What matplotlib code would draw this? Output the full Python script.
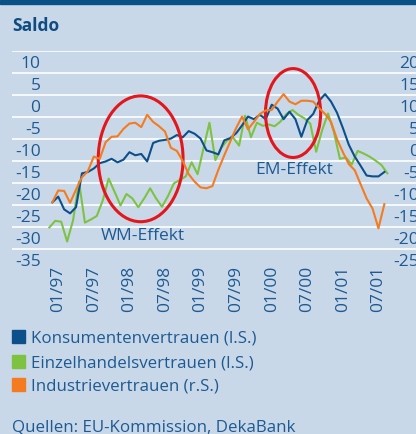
import numpy as np
import pandas as pd
import matplotlib
matplotlib.use("Agg")
import matplotlib.pyplot as plt
from matplotlib.patches import Ellipse, Rectangle
from matplotlib.transforms import blended_transform_factory

plt.rcParams['font.family'] = ['Open Sans', 'DejaVu Sans']

# ---------------- data ----------------
months = pd.date_range("1996-12-01", periods=57, freq="MS")

konsument = [-21.9, -20.6, -23.5, -24.4, -23.0, -15.3, -15.0, -14.2, -13.0, -12.6,
             -12.0, -12.8, -12.2, -10.5, -11.2, -10.9, -12.6, -8.4, -7.9, -7.7,
             -7.4, -6.6, -7.1, -5.7, -6.3, -7.4, -10.1, -10.5, -11.0, -7.8,
             -7.3, -6.2, -4.4, -2.4, -3.0, -2.0, -3.0, 0.3, -0.6, -3.0,
             -1.3, -3.0, -7.0, -3.2, -1.8, 1.2, 2.7, 1.0, -1.5, -5.0,
             -8.8, -11.5, -13.6, -15.8, -16.0, -16.0, -15.0]

einzelhandel = [-27.6, -26.1, -26.3, -30.8, -26.0, -17.2, -26.5, -25.8, -25.0, -21.5,
                -16.5, -19.5, -22.6, -20.0, -21.0, -23.0, -21.0, -18.7, -21.0, -22.9,
                -20.5, -17.6, -16.8, -16.0, -12.8, -15.5, -9.6, -3.8, -12.3, -9.5,
                -7.8, -7.2, -9.0, -2.2, -7.1, -3.8, -4.5, -4.2, -4.6, -3.5,
                -1.8, -0.9, -2.0, -2.8, -4.0, -10.4, -5.5, -1.7, -6.0, -12.0,
                -11.7, -13.3, -10.2, -10.8, -11.5, -12.4, -13.4, -15.3]

industrie = [-11.9, -9.2, -9.3, -12.0, -9.0, -6.2, -4.8, -1.5, -2.0, 1.8,
             3.0, 3.1, 4.8, 6.0, 6.2, 5.2, 8.0, 6.4, 5.4, 4.2,
             0.5, -0.2, -2.5, -5.5, -7.2, -8.5, -8.7, -8.2, -4.5, -1.2,
             1.9, 5.0, 7.6, 4.7, 6.4, 8.2, 9.0, 9.1, 11.0, 12.7,
             11.0, 10.4, 11.2, 11.2, 11.0, 9.5, 8.2, 6.4, 2.5, -0.5,
             -3.2, -4.6, -7.8, -11.0, -13.3, -17.8, -12.3]

left_ticks = [10, 5, 0, -5, -10, -15, -20, -25, -30, -35]
right_ticks = [20, 15, 10, 5, 0, -5, -10, -15, -20, -25]

series_names = ["Konsumentenvertrauen (l.S.)",
                "Einzelhandelsvertrauen (l.S.)",
                "Industrievertrauen (r.S.)"]

# ---------------- style ----------------
BG = "#c9d8e8"
TXT = "#1d5a93"
TITLE = "#0f4c82"
C_BLUE = "#0c4f8a"
C_GREEN = "#7ec242"
C_ORANGE = "#f47b20"
C_RED = "#e3161c"

W, H = 416, 434
fig = plt.figure(figsize=(W / 100, H / 100), dpi=100, facecolor=BG)

# top band
fig.patches.append(Rectangle((0, 1 - 3.5 / H), 1, 3.5 / H, transform=fig.transFigure,
                             color="#0a5188", zorder=0))

fig.text(12 / W, 1 - 24 / H, "Saldo", color=TITLE, fontsize=12.5, fontweight='bold',
         ha='left', va='center_baseline')

# axes: spans full width from px 12; month i -> px 52.3 + 5.93 i
ax_left_px, ax_right_px = 12, 416
top_px, bot_px = 51, 260
ax = fig.add_axes([ax_left_px / W, 1 - bot_px / H, (ax_right_px - ax_left_px) / W,
                   (bot_px - top_px) / H])
ax.set_facecolor('none')
for s in ax.spines.values():
    s.set_visible(False)
ax.set_xticks([])
ax.set_yticks([])

x0_px, dx_px = 52.3, 5.93
ax.set_xlim((ax_left_px - x0_px) / dx_px, (ax_right_px - x0_px) / dx_px)
ax.set_ylim(-35, 12.5)

# white gridlines between the labels
step = left_ticks[0] - left_ticks[1]
for t in left_ticks:
    ax.axhline(t + step / 2, color='white', lw=1.2, zorder=1)

idx = np.arange(len(months))
ax.plot(idx, konsument, color=C_BLUE, lw=1.5, zorder=4)
ax.plot(np.arange(len(einzelhandel)) - 0.5, einzelhandel, color=C_GREEN, lw=1.5, zorder=3)

ax2 = ax.twinx()
ax2.set_axis_off()
offset = right_ticks[0] - left_ticks[0]
lo, hi = ax.get_ylim()
ax2.set_ylim(lo + offset, hi + offset)
ax2.plot(idx, industrie, color=C_ORANGE, lw=1.5, zorder=3)

# left / right tick labels
trL = blended_transform_factory(fig.transFigure, ax.transData)
for t in left_ticks:
    ax.text(40.5 / W, t, f"{t}", transform=trL, ha='right', va='center_baseline',
            color=TXT, fontsize=12.5)
trR = blended_transform_factory(fig.transFigure, ax2.transData)
for t in right_ticks:
    ax2.text(419 / W, t, f"{t}", transform=trR, ha='right', va='center_baseline',
             color=TXT, fontsize=12.5, clip_on=False)

# x tick labels (Jan / Jul)
trX = blended_transform_factory(ax.transData, fig.transFigure)
for i, m in enumerate(months):
    if m.month in (1, 7):
        ax.text(i, 1 - 266 / H, m.strftime("%m/%y"), transform=trX, rotation=90,
                ha='center', va='top', color=TXT, fontsize=12.5)

# ellipses + annotations
ax.add_patch(Ellipse((14.9, -12.0), 14.3, 28.6, fill=False, ec=C_RED, lw=2.2, zorder=6))
ax.add_patch(Ellipse((40.6, -1.6), 9.3, 20.2, fill=False, ec=C_RED, lw=2.2, zorder=6))
ax.text(8.1, -29.2, "WM-Effekt", color=TXT, fontsize=12.5, ha='left', va='center_baseline')
ax.text(34.2, -14.1, "EM-Effekt", color=TXT, fontsize=12.5, ha='left', va='center_baseline')

# legend
colors = [C_BLUE, C_GREEN, C_ORANGE]
rows_px = [336.5, 361, 384.5]
for name, c, yp in zip(series_names, colors, rows_px):
    fig.patches.append(Rectangle((11.5 / W, 1 - (yp + 6.5) / H), 13 / W, 13 / H,
                                 transform=fig.transFigure, color=c))
    fig.text(31.5 / W, 1 - yp / H, name, color=TXT, fontsize=12.2, ha='left',
             va='center_baseline')

fig.text(11.5 / W, 1 - 432 / H, "Quellen: EU-Kommission, DekaBank", color=TXT,
         fontsize=12.2, ha='left', va='baseline')

fig.savefig("out.png", dpi=100, facecolor=BG)
